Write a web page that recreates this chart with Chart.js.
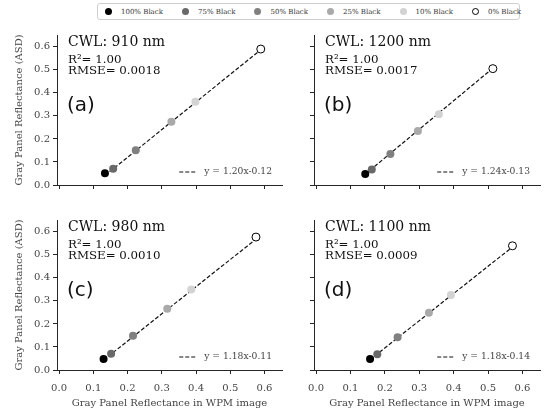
<!DOCTYPE html>
<html>
<head>
<meta charset="utf-8">
<script src="https://cdn.jsdelivr.net/npm/chart.js@4/dist/chart.umd.min.js"></script>
<style>
  html, body { margin:0; padding:0; background:#fff; }
  #wrap { position:relative; width:550px; height:414px; overflow:hidden; }
  canvas { position:absolute; }
  #legend { position:absolute; left:97px; top:3px; width:423px; height:17px; border:1px solid #cfcfcf; border-radius:3px;
            box-sizing:border-box; display:flex; align-items:center; padding-left:7px; white-space:nowrap;
            font-family:"DejaVu Serif", serif; font-size:7px; color:#333; -webkit-font-smoothing:antialiased; }
  .item { display:flex; align-items:center; margin-right:19px; white-space:nowrap; flex:none; }
  .dot { width:7px; height:7px; border-radius:50%; box-sizing:border-box; margin-right:9px; flex:none; }
</style>
</head>
<body>
<div id="wrap">
  <div id="legend"></div>
  <canvas id="pa" width="290" height="170" style="left:0px;top:25px"></canvas>
  <canvas id="pb" width="290" height="170" style="left:260px;top:25px"></canvas>
  <canvas id="pc" width="290" height="204" style="left:0px;top:210px"></canvas>
  <canvas id="pd" width="290" height="204" style="left:260px;top:210px"></canvas>
</div>
<script>
// ---------------- data ----------------
const categories = ['100% Black','75% Black','50% Black','25% Black','10% Black','0% Black'];
const pointColors = ['#000000','#696969','#808080','#a9a9a9','#d3d3d3','#ffffff'];
const tickValues = [0.0,0.1,0.2,0.3,0.4,0.5,0.6];

const panelLabels = ['(a)','(b)','(c)','(d)'];
const cwlLabels = ['CWL: 910 nm','CWL: 1200 nm','CWL: 980 nm','CWL: 1100 nm'];
const r2Labels = ['1.00','1.00','1.00','1.00'];
const rmseLabels = ['0.0018','0.0017','0.0010','0.0009'];
const fitLabels = ['y = 1.20x-0.12','y = 1.24x-0.13','y = 1.18x-0.11','y = 1.18x-0.14'];

// WPM image reflectance (x) and ASD reflectance (y), per category
const wpm910  = [0.134,0.158,0.224,0.328,0.398,0.589];
const asd910  = [0.051,0.071,0.151,0.275,0.361,0.590];
const wpm1200 = [0.143,0.162,0.216,0.296,0.357,0.514];
const asd1200 = [0.048,0.067,0.134,0.234,0.307,0.505];
const wpm980  = [0.130,0.152,0.216,0.316,0.386,0.575];
const asd980  = [0.048,0.071,0.149,0.266,0.349,0.577];
const wpm1100 = [0.157,0.178,0.237,0.328,0.392,0.571];
const asd1100 = [0.048,0.068,0.142,0.249,0.325,0.539];

// fitted line end points
const fitX910  = [0.134,0.589]; const fitY910  = [0.041,0.587];
const fitX1200 = [0.143,0.514]; const fitY1200 = [0.047,0.507];
const fitX980  = [0.130,0.575]; const fitY980  = [0.043,0.568];
const fitX1100 = [0.157,0.571]; const fitY1100 = [0.045,0.534];

const panels = [
  {id:'pa', xs:wpm910,  ys:asd910,  fx:fitX910,  fy:fitY910,  yLabels:true,  xLabels:false},
  {id:'pb', xs:wpm1200, ys:asd1200, fx:fitX1200, fy:fitY1200, yLabels:false, xLabels:false},
  {id:'pc', xs:wpm980,  ys:asd980,  fx:fitX980,  fy:fitY980,  yLabels:true,  xLabels:true},
  {id:'pd', xs:wpm1100, ys:asd1100, fx:fitX1100, fy:fitY1100, yLabels:false, xLabels:true},
];

// ---------------- legend ----------------
const lg = document.getElementById('legend');
categories.forEach((c,i)=>{
  const it = document.createElement('div'); it.className='item';
  const d = document.createElement('div'); d.className='dot';
  d.style.background = pointColors[i];
  d.style.border = i===categories.length-1 ? '1px solid #000' : 'none';
  const t = document.createElement('span'); t.textContent = c;
  it.appendChild(d); it.appendChild(t); lg.appendChild(it);
});

// ---------------- charts ----------------
const SERIF = '"DejaVu Serif", serif';
const SANS = '"DejaVu Sans", sans-serif';
const AX = '#262626';
const TXT = '#444444';

const annotPlugin = {
  id:'annot',
  afterDraw(chart, args, opts){
    const {ctx, chartArea:a} = chart;
    const i = opts.index;
    ctx.save();
    ctx.textBaseline = 'middle';
    ctx.textAlign = 'left';
    ctx.fillStyle = '#111';
    ctx.font = '14px ' + SERIF;
    ctx.fillText(cwlLabels[i], a.left+11, a.top+7.5);
    ctx.font = '11.8px ' + SERIF;
    ctx.fillText('R\u00B2= ' + r2Labels[i], a.left+11, a.top+24.5);
    ctx.fillText('RMSE= ' + rmseLabels[i], a.left+11, a.top+36);
    ctx.font = '20px ' + SANS;
    ctx.fillText(panelLabels[i], a.left+10, a.top+71);
    // fit legend
    ctx.font = '9.2px ' + SERIF;
    ctx.fillStyle = TXT;
    ctx.textAlign = 'right';
    const ty = a.bottom - 13;
    const tx = a.right - 10;
    ctx.fillText(fitLabels[i], tx, ty);
    const tw = ctx.measureText(fitLabels[i]).width;
    ctx.strokeStyle = '#111'; ctx.lineWidth = 1.2; ctx.setLineDash([4,2]);
    ctx.beginPath(); ctx.moveTo(tx-tw-25, ty); ctx.lineTo(tx-tw-9, ty); ctx.stroke();
    ctx.restore();
  }
};

panels.forEach((p, idx)=>{
  const datasets = categories.map((c,i)=>({
    label:c,
    data:[{x:p.xs[i], y:p.ys[i]}],
    pointRadius:4,
    pointBackgroundColor:pointColors[i],
    pointBorderColor: i===categories.length-1 ? '#000' : pointColors[i],
    pointBorderWidth: i===categories.length-1 ? 1 : 0,
    showLine:false,
    order:1
  }));
  datasets.push({
    label:'fit',
    data:p.fx.map((x,k)=>({x:x, y:p.fy[k]})),
    showLine:true, pointRadius:0, borderColor:'#111', borderWidth:1.2, borderDash:[4,2],
    order:5
  });
  const isBottom = p.xLabels;
  new Chart(document.getElementById(p.id), {
    type:'scatter',
    data:{datasets},
    options:{
      responsive:false, animation:false, devicePixelRatio:1,
      layout:{padding:{top:10, right: p.yLabels ? 8 : 10, left:0, bottom:0}},
      plugins:{legend:{display:false}, tooltip:{enabled:false}, annot:{index:idx}},
      scales:{
        x:{
          type:'linear', min:-0.006, max:0.651,
          afterBuildTicks:(s)=>{ s.ticks = tickValues.map(v=>({value:v})); },
          afterFit:(s)=>{ s.height = isBottom ? 44 : 10; },
          grid:{drawOnChartArea:false, drawTicks:true, tickLength:4, tickColor:AX, tickWidth:1},
          border:{color:AX, width:1},
          ticks:{
            padding:8, color:TXT, font:{family:SERIF, size:10},
            maxRotation:0, autoSkip:false,
            callback:(v)=> p.xLabels ? Number(v).toFixed(1) : ''
          },
          title:{display:isBottom, text:'Gray Panel Reflectance in WPM image', color:TXT,
                 font:{family:SERIF, size:10}, padding:{top:2, bottom:5}}
        },
        y:{
          type:'linear', min:0, max:0.651,
          afterBuildTicks:(s)=>{ s.ticks = tickValues.map(v=>({value:v})); },
          afterFit:(s)=>{ s.width = p.yLabels ? 57 : 54; },
          grid:{drawOnChartArea:false, drawTicks:true, tickLength:4, tickColor:AX, tickWidth:1},
          border:{color:AX, width:1},
          ticks:{
            padding:3, color:TXT, font:{family:SERIF, size:10}, autoSkip:false,
            callback:(v)=> p.yLabels ? Number(v).toFixed(1) : ''
          },
          title:{display:p.yLabels, text:'Gray Panel Reflectance (ASD)', color:TXT,
                 font:{family:SERIF, size:10}, padding:{top:13, bottom:5}}
        }
      }
    },
    plugins:[annotPlugin]
  });
});
</script>
</body>
</html>
